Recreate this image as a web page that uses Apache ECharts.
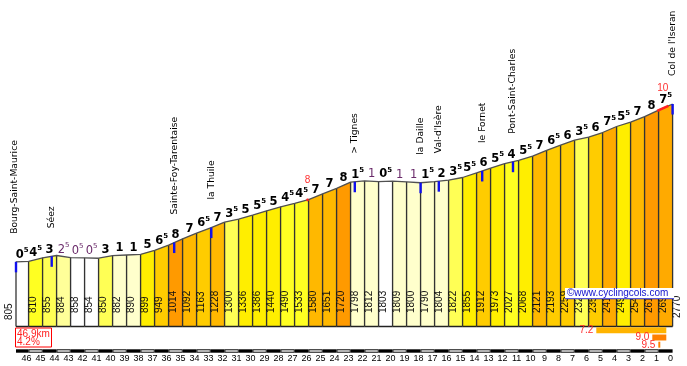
<!DOCTYPE html>
<html><head><meta charset="utf-8">
<script src="https://cdn.jsdelivr.net/npm/echarts@6/dist/echarts.min.js"></script>
<style>html,body{margin:0;padding:0;background:#fff}#c{width:687px;height:366px}</style>
</head><body><div id="c"></div>
<script>
// ---- data ----
const kmPoints = [46.9,46,45,44,43,42,41,40,39,38,37,36,35,34,33,32,31,30,29,28,27,26,25,24,23,22,21,20,19,18,17,16,15,14,13,12,11,10,9,8,7,6,5,4,3,2,1,0];
const elevations = [805,810,855,884,858,854,850,882,890,899,949,1014,1092,1163,1228,1300,1336,1386,1440,1490,1533,1580,1651,1720,1798,1812,1803,1809,1800,1790,1804,1822,1855,1912,1973,2027,2068,2121,2193,2259,2320,2357,2415,2490,2545,2614,2693,2770];
const grades = [0.5,4.5,3,-2.5,-0.5,-0.5,3,1,1,5,6.5,8,7,6.5,7,3.5,5,5.5,5,4.5,4.5,7,7,8,1.5,-1,0.5,-1,-1,1.5,2,3.5,5.5,6,5.5,4,5.5,7,6.5,6,3.5,6,7.5,5.5,7,8,7.5];
const placeNames = ['Bourg-Saint-Maurice','Séez','Sainte-Foy-Tarentaise','la Thuile','> Tignes','la Daille',"Val-d'Isère",'le Fornet','Pont-Saint-Charles',"Col de l'Iseran"];
const placeKm = [46.9,44.35,35.6,32.95,22.7,18.0,16.7,13.6,11.4,0];
const steepFrom = [26.15,1.1];
const steepTo = [26.0,0.3];
const steepGrade = [8,10];
const recordFrom = [5.45,1.45,1.02];
const recordTo = [0.45,0.45,0.88];
const recordGrade = ['7.2','9.0','9.5'];
const axisTicks = [46,45,44,43,42,41,40,39,38,37,36,35,34,33,32,31,30,29,28,27,26,25,24,23,22,21,20,19,18,17,16,15,14,13,12,11,10,9,8,7,6,5,4,3,2,1,0];
const totalKm = '46.9km';
const avgGrade = '4.2%';
const siteText = '©www.cyclingcols.com';

// ---- helpers ----
function elevAt(km){
  for(let i=0;i<kmPoints.length-1;i++){
    const a=kmPoints[i], b=kmPoints[i+1];
    if(km<=a && km>=b){ const t=(a-km)/(a-b); return elevations[i]+t*(elevations[i+1]-elevations[i]); }
  }
  return elevations[elevations.length-1];
}
function gradeColor(g){
  const a=Math.abs(g);
  if(a<1) return '#FFFFFF';
  if(a<2.5) return '#FFFFCC';
  if(a<3) return '#FFFF99';
  if(a<4) return '#FFFF55';
  if(a<5) return '#FFFF22';
  if(a<6) return '#FFEE00';
  if(a<7) return '#FFCC00';
  if(a<7.5) return '#FFB800';
  if(a<8) return '#FFAA00';
  if(a<9) return '#FF9A00';
  return '#FF8000';
}
function gradeRich(g){
  const a=Math.abs(g); const ip=Math.floor(a); const half=(a-ip)>0.25;
  const key = g<0 ? 'd' : 'b';
  const skey = g<0 ? 'ds' : 's';
  return '{'+key+'|'+ip+'}'+(half?'{'+skey+'|5}':'');
}
const NAMEFONT='DejaVu Sans';

const chart = echarts.init(document.getElementById('c'));
const option = {
  animation:false,
  backgroundColor:'#fff',
  grid:{left:16, top:85.54, width:656.6, height:240.96},
  xAxis:{type:'value', min:0, max:46.9, inverse:true, interval:1,
    axisLine:{show:false}, axisTick:{show:false}, splitLine:{show:false},
    axisLabel:{show:true, margin:28, fontFamily:'Liberation Sans', fontSize:9, color:'#000', padding:[0,4,0,0],
      formatter:function(v){ return axisTicks.indexOf(v)>=0 ? String(v) : ''; }}},
  yAxis:{type:'value', min:0, max:3000, show:false, splitLine:{show:false}},
  series:[
    { // columns
      type:'custom', z:2, clip:false,
      data: grades.map((g,i)=>[kmPoints[i], elevations[i], i]),
      renderItem:function(params, api){
        const i=api.value(2);
        const k0=kmPoints[i], k1=kmPoints[i+1], e0=elevations[i], e1=elevations[i+1];
        const p0=api.coord([k0,e0]), p1=api.coord([k1,e1]);
        const b0=api.coord([k0,0]), b1=api.coord([k1,0]);
        return {type:'group', children:[
          {type:'polygon', shape:{points:[b0,p0,p1,b1]}, style:{fill:gradeColor(grades[i])}},
          {type:'line', shape:{x1:p0[0],y1:p0[1],x2:b0[0],y2:b0[1]}, style:{stroke:'#333',lineWidth:1.3}},
          {type:'line', shape:{x1:p1[0],y1:p1[1],x2:b1[0],y2:b1[1]}, style:{stroke:'#333',lineWidth:1.3}},
          {type:'line', shape:{x1:b0[0],y1:b0[1],x2:b1[0],y2:b1[1]}, style:{stroke:'#222',lineWidth:1.5}}
        ]};
      }
    },
    { // profile line
      type:'line', z:3, symbol:'none', silent:true,
      data: kmPoints.map((k,i)=>[k, elevations[i]]),
      lineStyle:{color:'#505050', width:1.3}
    },
    { // elevation labels
      type:'custom', z:4, clip:false,
      data: elevations.map((e,i)=>[kmPoints[i], e, i]),
      renderItem:function(params, api){
        const i=api.value(2);
        const b=api.coord([kmPoints[i],0]);
        let x=b[0]+4.5, y=b[1]-13.5;
        if(i===0){ x=b[0]-6.7; y=b[1]-6.5; }
        if(i===elevations.length-1){ x=b[0]+4.8; y=b[1]-8.5; }
        return {type:'text', x:x, y:y, rotation:Math.PI/2,
          style:{text:String(elevations[i]), x:0, y:0, align:'left', verticalAlign:'middle',
            fontFamily:"'Liberation Sans Narrow','Liberation Sans'", fontSize:10, fill:'#111'}};
      }
    },
    { // gradient labels
      type:'custom', z:5, clip:false,
      data: grades.map((g,i)=>[kmPoints[i], elevations[i], i]),
      renderItem:function(params, api){
        const i=api.value(2);
        const p0=api.coord([kmPoints[i],elevations[i]]), p1=api.coord([kmPoints[i+1],elevations[i+1]]);
        return {type:'text', x:(p0[0]+p1[0])/2, y:(p0[1]+p1[1])/2-8,
          style:{text:gradeRich(grades[i]), x:0, y:0, align:'center', verticalAlign:'middle',
            rich:{
              b:{fontFamily:'DejaVu Sans', fontWeight:'bold', fontSize:11.5, fill:'#000', lineHeight:14, verticalAlign:'bottom'},
              s:{fontFamily:'DejaVu Sans', fontWeight:'bold', fontSize:7, fill:'#000', lineHeight:8, verticalAlign:'top'},
              d:{fontFamily:'DejaVu Sans', fontSize:11.5, fill:'#6a2a6a', lineHeight:14, verticalAlign:'bottom'},
              ds:{fontFamily:'DejaVu Sans', fontSize:7, fill:'#6a2a6a', lineHeight:8, verticalAlign:'top'}
            }}};
      }
    },
    { // steep spots (red)
      type:'custom', z:6, clip:false,
      data: steepGrade.map((g,i)=>[steepFrom[i], elevAt(steepFrom[i]), i]),
      renderItem:function(params, api){
        const i=api.value(2);
        const a=api.coord([steepFrom[i], elevAt(steepFrom[i])]);
        const b=api.coord([steepTo[i], elevAt(steepTo[i])]);
        const m=(steepFrom[i]+steepTo[i])/2;
        const pm=api.coord([m, elevAt(m)]);
        return {type:'group', children:[
          {type:'line', shape:{x1:a[0],y1:a[1],x2:b[0],y2:b[1]}, style:{stroke:'#FF2020', lineWidth:2.6}},
          {type:'text', x:pm[0], y:pm[1]-20, style:{text:String(steepGrade[i]), x:0,y:0, align:'center', verticalAlign:'middle', fontFamily:'Liberation Sans', fontSize:10, fill:'#FF3030'}}
        ]};
      }
    },
    { // place names and markers
      type:'custom', z:7, clip:false,
      data: placeKm.map((k,i)=>[k, elevAt(k), i]),
      renderItem:function(params, api){
        const i=api.value(2);
        const p=api.coord([placeKm[i], elevAt(placeKm[i])]);
        return {type:'group', children:[
          {type:'line', shape:{x1:p[0],y1:p[1],x2:p[0],y2:p[1]+10.5}, style:{stroke:'#1010EE', lineWidth:2.4}},
          {type:'text', x:p[0]-(i===0?1.5:0), y:p[1]-28, rotation:Math.PI/2,
            style:{text:placeNames[i], x:0, y:0, align:'left', verticalAlign:'middle', fontFamily:NAMEFONT, fontSize:9.2, fill:'#000'}}
        ]};
      }
    },
    { // km bar
      type:'custom', z:4, clip:false,
      data: kmPoints.slice(0,-1).map((k,i)=>[k, 0, i]),
      renderItem:function(params, api){
        const i=api.value(2);
        const a=api.coord([kmPoints[i],0]), b=api.coord([kmPoints[i+1],0]);
        const ch=[{type:'rect', shape:{x:a[0], y:a[1]+22.8, width:b[0]-a[0], height:3.4}, style:{fill:'#000'}}];
        if(Number.isInteger(kmPoints[i]) && kmPoints[i]%2===0){
          ch.push({type:'rect', shape:{x:a[0]+0.8, y:a[1]+23.8, width:b[0]-a[0]-1.6, height:1.4}, style:{fill:'#fff'}});
        }
        return {type:'group', children:ch};
      }
    },
    { // record bars
      type:'custom', z:4, clip:false,
      data: recordGrade.map((g,i)=>[recordFrom[i], 0, i]),
      renderItem:function(params, api){
        const i=api.value(2);
        const a=api.coord([recordFrom[i],0]), b=api.coord([recordTo[i],0]);
        const y=a[1]+0.8+i*7.2;
        return {type:'group', children:[
          {type:'rect', shape:{x:a[0], y:y, width:b[0]-a[0], height:6}, style:{fill: i===0?'#FFB400':'#FF8000'}},
          {type:'text', x:a[0]-3, y:y+3.2, style:{text:recordGrade[i], x:0,y:0, align:'right', verticalAlign:'middle', fontFamily:'Liberation Sans', fontSize:10, fill:'#FF2A2A'}}
        ]};
      }
    }
  ],
  graphic:[
    {type:'rect', left:15, top:327.5, shape:{width:36, height:19}, style:{fill:'#fff', stroke:'#FF0000', lineWidth:1}, z:10},
    {type:'text', x:17, y:334, style:{text:totalKm, fontFamily:'Liberation Sans', fontSize:10, fill:'#FF2020', verticalAlign:'middle'}, z:11},
    {type:'text', x:17, y:342.7, style:{text:avgGrade, fontFamily:'Liberation Sans', fontSize:10, fill:'#FF2020', verticalAlign:'middle'}, z:11},
    {type:'rect', left:565, top:288, shape:{width:109, height:11}, style:{fill:'#fff'}, z:10},
    {type:'rect', left:565, top:298.2, shape:{width:109, height:1}, style:{fill:'#2020CC'}, z:11},
    {type:'text', left:567, top:288, style:{text:siteText, fontFamily:'Liberation Sans', fontSize:10, fill:'#1010CC'}, z:11}
  ]
};
chart.setOption(option);
</script>
</body></html>
